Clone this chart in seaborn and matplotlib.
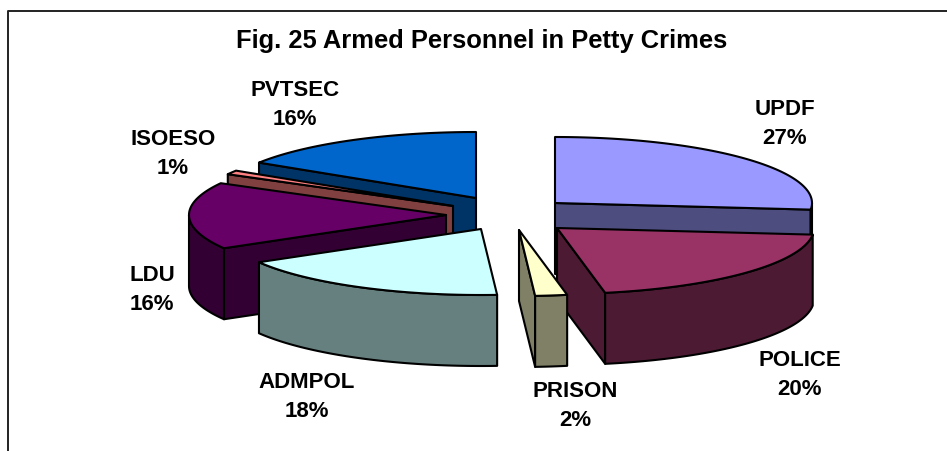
import numpy as np
import matplotlib
matplotlib.use("Agg")
import matplotlib.pyplot as plt
from matplotlib.patches import Polygon
import seaborn as sns

# Data
categories = ["UPDF", "POLICE", "PRISON", "ADMPOL", "LDU", "ISOESO", "PVTSEC"]
values = [26.6, 20.4, 2, 17.6, 16.4, 1, 16]
title_text = "Fig. 25 Armed Personnel in Petty Crimes"

# Styles and layout (pixel space of the figure)
top_colors = ["#9999FF", "#993366", "#FFFFCC", "#CCFFFF", "#660066", "#FF8080", "#0066CC"]
side_colors = ["#4D4D80", "#4D1A33", "#808066", "#668080", "#330033", "#804040", "#003366"]
apex_x = [555, 557, 519, 481, 446, 453, 476]
apex_y = [203, 228, 230, 229, 215, 206, 198]
label_x = [785, 800, 575, 307, 152, 173, 295]
label_y = [124, 375, 406, 397, 290, 154, 105]
draw_order = [6, 5, 4, 3, 0, 1, 2]
R_X, R_Y, DEPTH = 257, 66, 71

sns.set_theme(style="white")
plt.rcParams["font.family"] = ["Liberation Sans", "DejaVu Sans"]

fig = plt.figure(figsize=(9.47, 4.51), dpi=100, facecolor="white")
ax = fig.add_axes([0, 0, 1, 1])
ax.set_xlim(0, 947)
ax.set_ylim(451, 0)
ax.axis("off")

# Chart frame: only the top and left edges are inside the crop
ax.plot([7.5, 7.5, 947], [451, 11, 11], color="#222222", lw=1.4, solid_capstyle="butt", zorder=1)

fracs = np.array(values) / np.sum(values)
edges = np.concatenate([[0], np.cumsum(fracs)]) * 2 * np.pi


def rim(cx, cy, a0, a1):
    t = np.linspace(a0, a1, max(int(abs(a1 - a0) * 60), 2))
    return cx + R_X * np.sin(t), cy - R_Y * np.cos(t)


def face(xs, ys, color, z):
    ax.add_patch(Polygon(np.column_stack([xs, ys]), closed=True, facecolor=color,
                         edgecolor="black", lw=1.5, joinstyle="round", zorder=z))


z = 2
for i in draw_order:
    a0, a1 = edges[i], edges[i + 1]
    cx, cy = apex_x[i], apex_y[i]
    side, top = side_colors[i], top_colors[i]
    # radial cut faces that turn towards the viewer
    for a, normal in ((a0, a0 - np.pi / 2), (a1, a1 + np.pi / 2)):
        if np.cos(normal) < 0:
            ex, ey = rim(cx, cy, a, a)
            ex, ey = ex[0], ey[0]
            face([cx, ex, ex, cx], [cy, ey, ey + DEPTH, cy + DEPTH], side, z)
            z += 1
    # outer wall on the front half of the ellipse
    lo, hi = max(a0, np.pi / 2), min(a1, 3 * np.pi / 2)
    if hi > lo:
        rx, ry = rim(cx, cy, lo, hi)
        face(np.r_[rx, rx[::-1]], np.r_[ry, ry[::-1] + DEPTH], side, z)
        z += 1
    tx, ty = rim(cx, cy, a0, a1)
    face(np.r_[cx, tx], np.r_[cy, ty], top, z)
    z += 1

for name, v, x, y in zip(categories, values, label_x, label_y):
    ax.text(x, y, f"{name}\n{round(v)}%", ha="center", va="center", fontsize=16,
            fontweight="bold", color="black", linespacing=1.55, zorder=50)

ax.text(482, 41, title_text, ha="center", va="center", fontsize=18.4,
        fontweight="bold", color="black", zorder=50)

fig.savefig("out.png", dpi=100, facecolor="white")
